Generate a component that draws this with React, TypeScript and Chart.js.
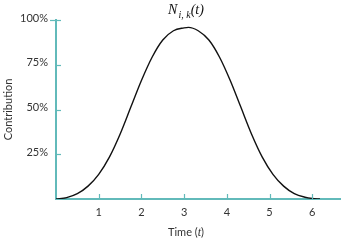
import React, { useEffect, useRef } from "react";
import { Chart, registerables } from "chart.js";

Chart.register(...registerables);

// Data
const timeValues = [0, 0.25, 0.5, 0.75, 1.0, 1.25, 1.5, 1.75, 2.0, 2.25, 2.5, 2.75, 3.0, 3.1, 3.33, 3.58, 3.83, 4.08, 4.33, 4.58, 4.83, 5.08, 5.33, 5.58, 5.83, 6.0, 6.18];
const contribution = [0, 0.8, 3.0, 7.2, 13.8, 23.4, 36.2, 51.2, 66.2, 79.2, 88.8, 94.0, 95.6, 95.9, 94.0, 88.8, 79.2, 66.2, 51.2, 36.2, 23.4, 13.8, 7.2, 3.0, 1.0, 0.3, 0];
const xTickValues = [1, 2, 3, 4, 5, 6];
const yTickValues = [0, 25, 50, 75, 100];
const yTickLabels = ["", "25%", "50%", "75%", "100%"];

const TEAL = "#62baba";
const TEXT = "#333333";
const FONT = "Lato";

const tickMarks = {
  id: "tickMarks",
  afterDraw(chart: any) {
    const { ctx, scales } = chart;
    const x = scales.x;
    const y = scales.y;
    ctx.save();
    ctx.strokeStyle = TEAL;
    ctx.lineWidth = 1.2;
    xTickValues.forEach((v) => {
      const px = Math.round(x.getPixelForValue(v)) + 0.5;
      ctx.beginPath();
      ctx.moveTo(px, y.bottom);
      ctx.lineTo(px, y.bottom - 5);
      ctx.stroke();
    });
    yTickValues.forEach((v) => {
      if (v === 0) return;
      const py = Math.round(y.getPixelForValue(v)) + 0.5;
      const x0 = v === 100 ? x.left - 6 : x.left;
      ctx.beginPath();
      ctx.moveTo(x0, py);
      ctx.lineTo(x.left + 5, py);
      ctx.stroke();
    });
    ctx.restore();
  },
};

export default function App() {
  const canvasRef = useRef<HTMLCanvasElement | null>(null);

  useEffect(() => {
    if (!canvasRef.current) return;
    const chart = new Chart(canvasRef.current, {
      type: "line",
      data: {
        datasets: [
          {
            data: timeValues.map((t, i) => ({ x: t, y: contribution[i] })),
            borderColor: "#111111",
            borderWidth: 1.4,
            pointRadius: 0,
            fill: false,
            cubicInterpolationMode: "monotone",
          },
        ],
      },
      options: {
        animation: false,
        responsive: false,
        devicePixelRatio: 1,
        layout: { padding: { top: 20, right: 6, left: 0, bottom: 0 } },
        plugins: {
          legend: { display: false },
          tooltip: { enabled: false },
          title: { display: false },
        },
        scales: {
          x: {
            type: "linear",
            min: 0,
            max: 6.65,
            afterBuildTicks: (s: any) => {
              s.ticks = xTickValues.map((v) => ({ value: v }));
            },
            afterFit: (s: any) => {
              s.height = 44;
            },
            grid: { display: false, drawTicks: false },
            border: { display: true, color: TEAL, width: 2 },
            ticks: {
              padding: 7,
              autoSkip: false,
              maxRotation: 0,
              color: TEXT,
              font: { family: FONT, size: 11 },
              callback: (v: any) => String(v),
            },
          },
          y: {
            type: "linear",
            min: 0,
            max: 100,
            afterBuildTicks: (s: any) => {
              s.ticks = yTickValues.map((v) => ({ value: v }));
            },
            afterFit: (s: any) => {
              s.width = 56;
            },
            grid: { display: false, drawTicks: false },
            border: { display: true, color: TEAL, width: 2 },
            ticks: {
              padding: 8,
              labelOffset: -2,
              color: TEXT,
              font: { family: FONT, size: 11 },
              callback: (v: any) => {
                const i = yTickValues.indexOf(Number(v));
                return i >= 0 ? yTickLabels[i] : "";
              },
            },
            title: {
              display: true,
              text: "Contribution",
              color: TEXT,
              font: { family: FONT, size: 11 },
              padding: { top: 2, bottom: 0 },
            },
          },
        },
      },
      plugins: [tickMarks],
    });
    return () => chart.destroy();
  }, []);

  return (
    <div style={{ position: "absolute", left: 0, top: 0, width: 346, height: 243, background: "#ffffff" }}>
      <canvas ref={canvasRef} width={346} height={243} style={{ position: "absolute", left: 0, top: 0 }} />
      <div
        style={{
          position: "absolute",
          left: 186,
          top: 3,
          transform: "translateX(-50%)",
          fontFamily: "'Liberation Serif', serif",
          fontStyle: "italic",
          fontSize: 14,
          lineHeight: "14px",
          color: "#111",
          whiteSpace: "nowrap",
        }}
      >
        N<span style={{ fontSize: 10, position: "relative", top: 4, marginLeft: 1 }}>i, k</span>(t)
      </div>
      <div
        style={{
          position: "absolute",
          left: 186,
          top: 225,
          transform: "translateX(-50%)",
          fontFamily: FONT,
          fontSize: 11,
          lineHeight: "13px",
          color: TEXT,
          whiteSpace: "nowrap",
        }}
      >
        Time (<span style={{ fontFamily: "'Liberation Serif', serif", fontStyle: "italic", fontSize: 12 }}>t</span>)
      </div>
    </div>
  );
}
